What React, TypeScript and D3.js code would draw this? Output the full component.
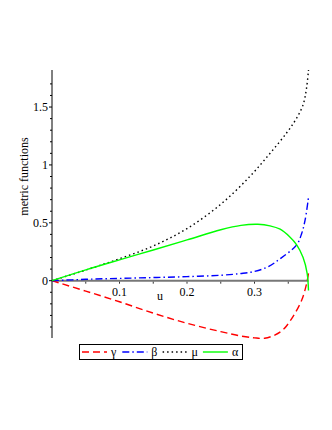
import { line, curveCatmullRom, scaleLinear } from "d3";

// metric functions against u as [u, value]
const gammaPts: [number, number][] = [
  [0, 0], [0.05, -0.09], [0.1, -0.182], [0.15, -0.28], [0.2, -0.368],
  [0.25, -0.44], [0.28, -0.478], [0.3, -0.494], [0.315, -0.497], [0.33, -0.47],
  [0.343, -0.42], [0.357, -0.31], [0.37, -0.167], [0.377, -0.03], [0.38, 0.065],
];
const betaPts: [number, number][] = [
  [0, 0], [0.05, 0.012], [0.1, 0.02], [0.15, 0.027], [0.2, 0.035],
  [0.25, 0.047], [0.28, 0.062], [0.3, 0.08], [0.32, 0.12], [0.338, 0.19],
  [0.3625, 0.31], [0.37, 0.41], [0.375, 0.525], [0.38, 0.72],
];
const muPts: [number, number][] = [
  [0, 0], [0.05, 0.092], [0.1, 0.19], [0.15, 0.3], [0.2, 0.45],
  [0.25, 0.66], [0.293, 0.9], [0.323, 1.1], [0.348, 1.28], [0.362, 1.4],
  [0.372, 1.52], [0.377, 1.66], [0.38, 1.82],
];
const alphaPts: [number, number][] = [
  [0, 0], [0.05, 0.093], [0.1, 0.18], [0.15, 0.265], [0.2, 0.352],
  [0.25, 0.44], [0.28, 0.478], [0.305, 0.487], [0.323, 0.474], [0.338, 0.445],
  [0.352, 0.38], [0.3625, 0.31], [0.372, 0.2], [0.378, 0.064], [0.38, -0.085],
];

const xTicks = [0.1, 0.2, 0.3];
const yTicks = [0, 0.5, 1, 1.5];
const legendNames = ["γ", "β", "μ", "α"];

const series = [
  { pts: gammaPts, color: "#ff0000", dash: "7,4" },
  { pts: betaPts, color: "#0000ff", dash: "7,3,1.5,3" },
  { pts: muPts, color: "#000000", dash: "1.5,3" },
  { pts: alphaPts, color: "#00ff00", dash: undefined },
];

export default function App() {
  const width = 332, height = 430;
  const x = scaleLinear().domain([0, 0.38]).range([52, 308.5]);
  const y = scaleLinear().domain([-0.495, 1.82]).range([338, 70]);
  const path = line<[number, number]>()
    .x(d => x(d[0]))
    .y(d => y(d[1]))
    .curve(curveCatmullRom.alpha(0.5));

  const minorY = [];
  for (let v = -0.4; v <= 1.8; v += 0.1) minorY.push(Math.round(v * 10) / 10);
  const minorX = [];
  for (let v = 0.05; v < 0.38; v += 0.05) minorX.push(Math.round(v * 100) / 100);

  const font = "'Liberation Serif', 'DejaVu Serif', serif";

  return (
    <svg width={width} height={height} style={{ position: "absolute", left: 0, top: 0 }}
      fontFamily={font} fontSize={12}>
      <rect width={width} height={height} fill="white" />
      {/* y axis */}
      <line x1={x(0)} x2={x(0)} y1={y(1.82)} y2={y(-0.495)} stroke="black" />
      {minorY.map(v => (
        <line key={v} x1={x(0) - (Math.abs(v * 2 - Math.round(v * 2)) < 1e-6 ? 3 : 2)} x2={x(0)}
          y1={y(v)} y2={y(v)} stroke="black" />
      ))}
      {yTicks.map(v => (
        <text key={v} x={x(0) - 4} y={y(v)} dy="0.35em" textAnchor="end">{v}</text>
      ))}
      <text transform={`translate(28,${y(0.9)}) rotate(-90)`} textAnchor="middle">metric functions</text>
      {/* x axis */}
      <line x1={x(0)} x2={x(0.38)} y1={y(0)} y2={y(0)} stroke="#777" strokeWidth={2} />
      {minorX.map(v => (
        <line key={v} x1={x(v)} x2={x(v)} y1={y(0) + 1} y2={y(0) + 3} stroke="#333" />
      ))}
      {xTicks.map(v => (
        <text key={v} x={x(v)} y={y(0) + 15} textAnchor="middle">{v}</text>
      ))}
      <text x={160} y={y(0) + 19} textAnchor="middle">u</text>
      {/* curves */}
      {series.map((s, i) => (
        <path key={i} d={path(s.pts) ?? ""} fill="none" stroke={s.color}
          strokeWidth={1.4} strokeDasharray={s.dash} />
      ))}
      {/* legend */}
      <rect x={79.5} y={344.5} width={163} height={15} fill="white" stroke="black" />
      {series.map((s, i) => {
        const x0 = 82 + i * 40.3;
        return (
          <g key={i}>
            <line x1={x0} x2={x0 + 25} y1={352} y2={352} stroke={s.color}
              strokeWidth={1.4} strokeDasharray={s.dash} />
            <text x={x0 + 29} y={356}>{legendNames[i]}</text>
          </g>
        );
      })}
    </svg>
  );
}
